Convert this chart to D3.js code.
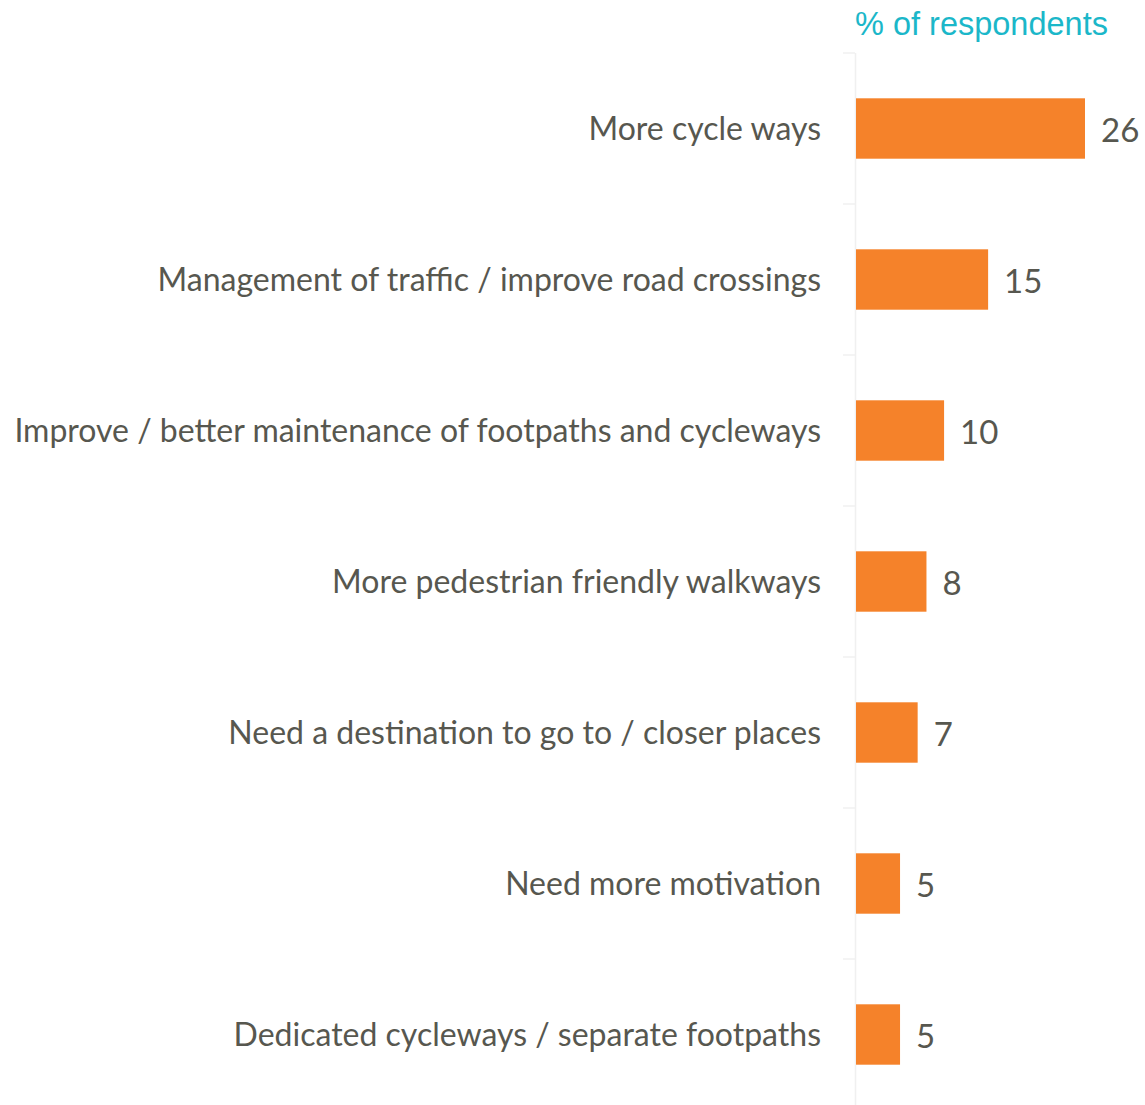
<!DOCTYPE html>
<html>
<head>
<meta charset="utf-8">
<script src="https://cdn.jsdelivr.net/npm/d3@7/dist/d3.min.js"></script>
<style>
  html, body { margin: 0; padding: 0; background: #ffffff; }
  svg { display: block; }
</style>
</head>
<body>
<svg id="chart" width="1145" height="1105"></svg>
<script>
// Responses: what would encourage more walking and cycling
const categories = [
  "More cycle ways",
  "Management of traffic / improve road crossings",
  "Improve / better maintenance of footpaths and cycleways",
  "More pedestrian friendly walkways",
  "Need a destination to go to / closer places",
  "Need more motivation",
  "Dedicated cycleways / separate footpaths"
];
const values = [26, 15, 10, 8, 7, 5, 5];
const axisTitle = "% of respondents";

const svg = d3.select("#chart");
const plotLeft = 855;
const plotTop = 53;
const plotBottom = 1110;

const x = d3.scaleLinear().domain([0, 26]).range([plotLeft, plotLeft + 229]);
const y = d3.scaleBand().domain(categories).range([plotTop, plotBottom]).paddingInner(0.6).paddingOuter(0.3);

const textColor = "#57574f";
const labelFont = "Lato, 'Open Sans', sans-serif";

// faint category axis with boundary ticks
const axisColor = "#f0f0f0";
svg.append("line")
  .attr("x1", plotLeft + 0.5).attr("x2", plotLeft + 0.5)
  .attr("y1", plotTop).attr("y2", plotBottom)
  .attr("stroke", axisColor).attr("stroke-width", 1.5);
d3.range(categories.length + 1).forEach(i => {
  const yy = plotTop + i * (plotBottom - plotTop) / categories.length;
  svg.append("line")
    .attr("x1", plotLeft - 12).attr("x2", plotLeft)
    .attr("y1", yy).attr("y2", yy)
    .attr("stroke", axisColor).attr("stroke-width", 1.5);
});

// bars
svg.selectAll("rect.bar")
  .data(values)
  .join("rect")
  .attr("class", "bar")
  .attr("x", x(0) + 1)
  .attr("y", (d, i) => y(categories[i]))
  .attr("width", d => x(d) - x(0))
  .attr("height", y.bandwidth())
  .attr("fill", "#f5822a");

// category labels
svg.selectAll("text.cat")
  .data(categories)
  .join("text")
  .attr("class", "cat")
  .attr("x", 821)
  .attr("y", d => y(d) + y.bandwidth() / 2)
  .attr("dy", "0.35em")
  .attr("text-anchor", "end")
  .attr("font-family", labelFont)
  .attr("font-size", 32)
  .attr("fill", textColor)
  .text(d => d);

// value labels
svg.selectAll("text.val")
  .data(values)
  .join("text")
  .attr("class", "val")
  .attr("x", d => x(d) + 17)
  .attr("y", (d, i) => y(categories[i]) + y.bandwidth() / 2)
  .attr("dy", "0.42em")
  .attr("font-family", labelFont)
  .attr("font-size", 33)
  .attr("fill", textColor)
  .text(d => d);

// axis title
svg.append("text")
  .attr("x", plotLeft)
  .attr("y", 35)
  .attr("font-family", "'Liberation Sans', Arial, sans-serif")
  .attr("font-size", 32.5)
  .attr("fill", "#1bb7c9")
  .text(axisTitle);
</script>
</body>
</html>
